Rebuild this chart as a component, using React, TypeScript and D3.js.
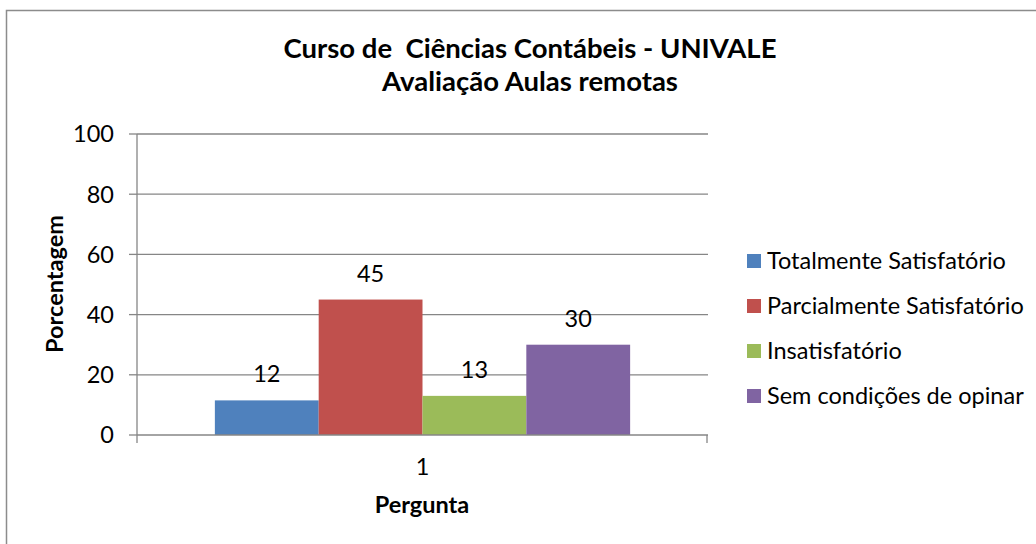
import React from "react";
import * as d3 from "d3";

const categories = ["1"];
const seriesNames = [
  "Totalmente Satisfatório",
  "Parcialmente Satisfatório",
  "Insatisfatório",
  "Sem condições de opinar",
];
const seriesValues = [11.5, 45, 13, 30];
const seriesLabels = ["12", "45", "13", "30"];
const seriesColors = ["#4F81BD", "#C0504D", "#9BBB59", "#8064A2"];
const yTicks = [0, 20, 40, 60, 80, 100];
const titleLines = ["Curso de  Ciências Contábeis - UNIVALE", "Avaliação Aulas remotas"];
const yTitle = "Porcentagem";
const xTitle = "Pergunta";

const W = 1036;
const H = 544;
const plot = { left: 137, right: 708, top: 134, bottom: 435 };
const FONT = "Lato, 'Open Sans', sans-serif";
const GRID = "#868686";
const FS = 23.5;

export default function App() {
  const x0 = d3.scaleBand<string>().domain(categories).range([plot.left, plot.right]).padding(0);
  const x1 = d3
    .scaleBand<string>()
    .domain(seriesNames)
    .range([0, x0.bandwidth()])
    .paddingInner(0)
    .paddingOuter(0.75);
  const y = d3.scaleLinear().domain([0, 100]).range([plot.bottom, plot.top]);

  return (
    <svg
      width={W}
      height={H}
      style={{ position: "absolute", left: 0, top: 0, background: "#fff" }}
      fontFamily={FONT}
    >
      <rect x={0} y={0} width={W} height={H} fill="#fff" />
      {/* chart border (only top/left visible) */}
      <rect x={6.5} y={10.5} width={W + 20} height={H + 20} fill="none" stroke="#8c8c8c" strokeWidth={1.5} />

      {/* title */}
      <text x={530} y={58} textAnchor="middle" fontWeight="bold" fontSize={27.5} fill="#000" style={{ whiteSpace: "pre" }}>
        {titleLines[0]}
      </text>
      <text x={530} y={91} textAnchor="middle" fontWeight="bold" fontSize={27.5} fill="#000">
        {titleLines[1]}
      </text>

      {/* gridlines and y ticks */}
      {yTicks.map((t) => (
        <g key={t}>
          {t > 0 && (
            <line x1={plot.left} x2={plot.right} y1={y(t)} y2={y(t)} stroke={GRID} strokeWidth={1.3} />
          )}
          <line x1={plot.left - 8} x2={plot.left} y1={y(t)} y2={y(t)} stroke={GRID} strokeWidth={1.3} />
          <text x={114} y={y(t)} dy="0.36em" textAnchor="end" fontSize={FS} fill="#000">
            {t}
          </text>
        </g>
      ))}

      {/* bars */}
      {categories.map((c) => (
        <g key={c} transform={`translate(${x0(c)},0)`}>
          {seriesNames.map((s, i) => (
            <g key={s}>
              <rect
                x={x1(s)}
                y={y(seriesValues[i])}
                width={x1.bandwidth()}
                height={y(0) - y(seriesValues[i])}
                fill={seriesColors[i]}
              />
              <text
                x={(x1(s) as number) + x1.bandwidth() / 2}
                y={y(seriesValues[i]) - 18}
                textAnchor="middle"
                fontSize={FS}
                fill="#000"
              >
                {seriesLabels[i]}
              </text>
            </g>
          ))}
          <text x={x0.bandwidth() / 2} y={475} textAnchor="middle" fontSize={FS} fill="#000">
            {c}
          </text>
        </g>
      ))}

      {/* axes */}
      <line x1={plot.left} x2={plot.left} y1={plot.top} y2={plot.bottom + 8} stroke={GRID} strokeWidth={1.3} />
      <line x1={plot.left} x2={plot.right} y1={plot.bottom} y2={plot.bottom} stroke={GRID} strokeWidth={1.3} />
      {categories.map((c) => (
        <line
          key={c}
          x1={(x0(c) as number) + x0.bandwidth() - 1}
          x2={(x0(c) as number) + x0.bandwidth() - 1}
          y1={plot.bottom}
          y2={plot.bottom + 8}
          stroke={GRID}
          strokeWidth={1.3}
        />
      ))}

      {/* axis titles */}
      <text
        transform={`translate(63,284) rotate(-90)`}
        textAnchor="middle"
        fontWeight="bold"
        fontSize={FS}
        fill="#000"
      >
        {yTitle}
      </text>
      <text x={422} y={513} textAnchor="middle" fontWeight="bold" fontSize={FS} fill="#000">
        {xTitle}
      </text>

      {/* legend */}
      {seriesNames.map((s, i) => (
        <g key={s} transform={`translate(747,${261 + i * 45})`}>
          <rect x={0} y={-7} width={14} height={14} fill={seriesColors[i]} />
          <text x={20} y={0} dy="0.36em" fontSize={FS} fill="#000">
            {s}
          </text>
        </g>
      ))}
    </svg>
  );
}
